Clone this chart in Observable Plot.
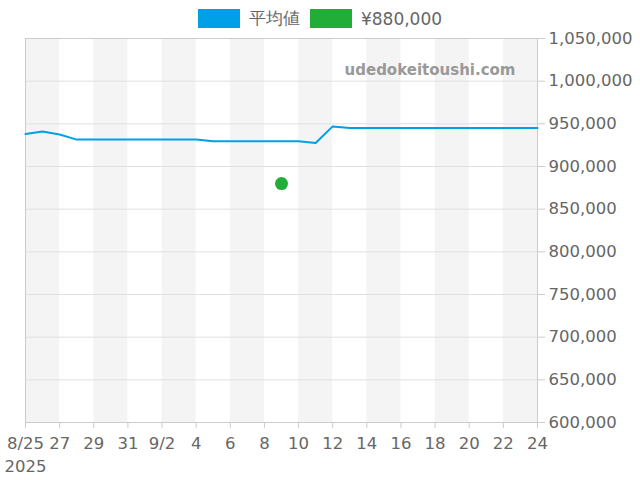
<!DOCTYPE html>
<html>
<head>
<meta charset="utf-8">
<script src="https://cdn.jsdelivr.net/npm/d3@7"></script>
<script src="https://cdn.jsdelivr.net/npm/@observablehq/plot@0.6"></script>
<style>
  body { margin: 0; background: #fff; font-family: "DejaVu Sans", sans-serif; }
  #wrap { position: relative; width: 640px; height: 480px; }
  #legend { position: absolute; left: 0; top: 0; width: 640px; height: 37px; display: flex; justify-content: center; align-items: center; font-size: 17px; color: #666; z-index: 2; }
  .item { display: flex; align-items: center; margin: 0 5px; }
  .sw { width: 42px; height: 19px; margin-right: 9px; }
  svg { position: absolute; left: 0; top: 0; }
</style>
</head>
<body>
<div id="wrap">
  <div id="legend"></div>
</div>
<script>
const dates = ["2025-08-25","2025-08-26","2025-08-27","2025-08-28","2025-08-29","2025-08-30","2025-08-31",
  "2025-09-01","2025-09-02","2025-09-03","2025-09-04","2025-09-05","2025-09-06","2025-09-07","2025-09-08",
  "2025-09-09","2025-09-10","2025-09-11","2025-09-12","2025-09-13","2025-09-14","2025-09-15","2025-09-16",
  "2025-09-17","2025-09-18","2025-09-19","2025-09-20","2025-09-21","2025-09-22","2025-09-23","2025-09-24"];
const averages = [938000,941000,937500,931500,931500,931500,931500,931500,931500,931500,931500,
  929500,929500,929500,929500,929500,929500,927500,947000,945000,945000,945000,945000,945000,
  945000,945000,945000,945000,945000,945000,945000];
const listingDates = ["2025-09-09"];
const listingPrices = [880000];
const seriesNames = ["平均値", "¥880,000"];
const seriesColors = ["#00a0e9", "#22ac38"];
const yTicks = [600000,650000,700000,750000,800000,850000,900000,950000,1000000,1050000];

const parse = d3.utcParse("%Y-%m-%d");
const lineData = dates.map((d, i) => ({date: parse(d), value: averages[i]}));
const pointData = listingDates.map((d, i) => ({date: parse(d), value: listingPrices[i]}));
const start = parse(dates[0]), end = parse(dates[dates.length - 1]);
const xTicks = d3.utcDay.range(start, d3.utcDay.offset(end, 1), 1).filter((d, i) => i % 2 === 0);
const bands = d3.utcDay.range(start, end, 1).filter((d, i) => i % 4 === 0)
  .map(d => ({x1: d, x2: d3.utcDay.offset(d, 2)}));

const fmt = d3.format(",");
const tickFmt = (d, i) => {
  const day = d.getUTCDate(), m = d.getUTCMonth() + 1;
  if (i === 0) return `${m}/${day}\n${d.getUTCFullYear()}`;
  if (day <= 2) return `${m}/${day}`;
  return `${day}`;
};

const chart = Plot.plot({
  width: 640,
  height: 480,
  marginTop: 38,
  marginBottom: 58,
  marginLeft: 25,
  marginRight: 103,
  style: {fontFamily: "DejaVu Sans, sans-serif", fontSize: "15px", color: "#666", background: "transparent"},
  x: {type: "utc", domain: [start, end], label: null},
  y: {domain: [600000, 1050000], label: null},
  marks: [
    Plot.rect(bands, {x1: "x1", x2: "x2", y1: 600000, y2: 1050000, fill: "#f4f4f4"}),
    Plot.gridY(yTicks, {stroke: "#e0e0e0", strokeOpacity: 1}),
    Plot.frame({stroke: "#ccc"}),
    Plot.axisY(yTicks, {anchor: "right", label: null, tickFormat: fmt, tickSize: 7, tickPadding: 4, stroke: "#ccc", fill: "#666", fontSize: 16.5}),
    Plot.axisX(xTicks, {anchor: "bottom", label: null, tickFormat: tickFmt, tickSize: 6, tickPadding: 4, stroke: "#ccc", fill: "#666", fontSize: 16.5, lineHeight: 1.4}),
    Plot.text(["udedokeitoushi.com"], {frameAnchor: "top-right", dx: -22, dy: 26, fontWeight: "bold", fontSize: 15, fill: "#999"}),
    Plot.line(lineData, {x: "date", y: "value", stroke: seriesColors[0], strokeWidth: 2}),
    Plot.dot(pointData, {x: "date", y: "value", r: 6.5, fill: seriesColors[1], stroke: "none"})
  ]
});
const wrap = document.getElementById("wrap");
wrap.appendChild(chart);

const legend = document.getElementById("legend");
seriesNames.forEach((name, i) => {
  const item = document.createElement("div");
  item.className = "item";
  const sw = document.createElement("div");
  sw.className = "sw";
  sw.style.background = seriesColors[i];
  const label = document.createElement("span");
  label.textContent = name;
  item.appendChild(sw);
  item.appendChild(label);
  legend.appendChild(item);
});
</script>
</body>
</html>
